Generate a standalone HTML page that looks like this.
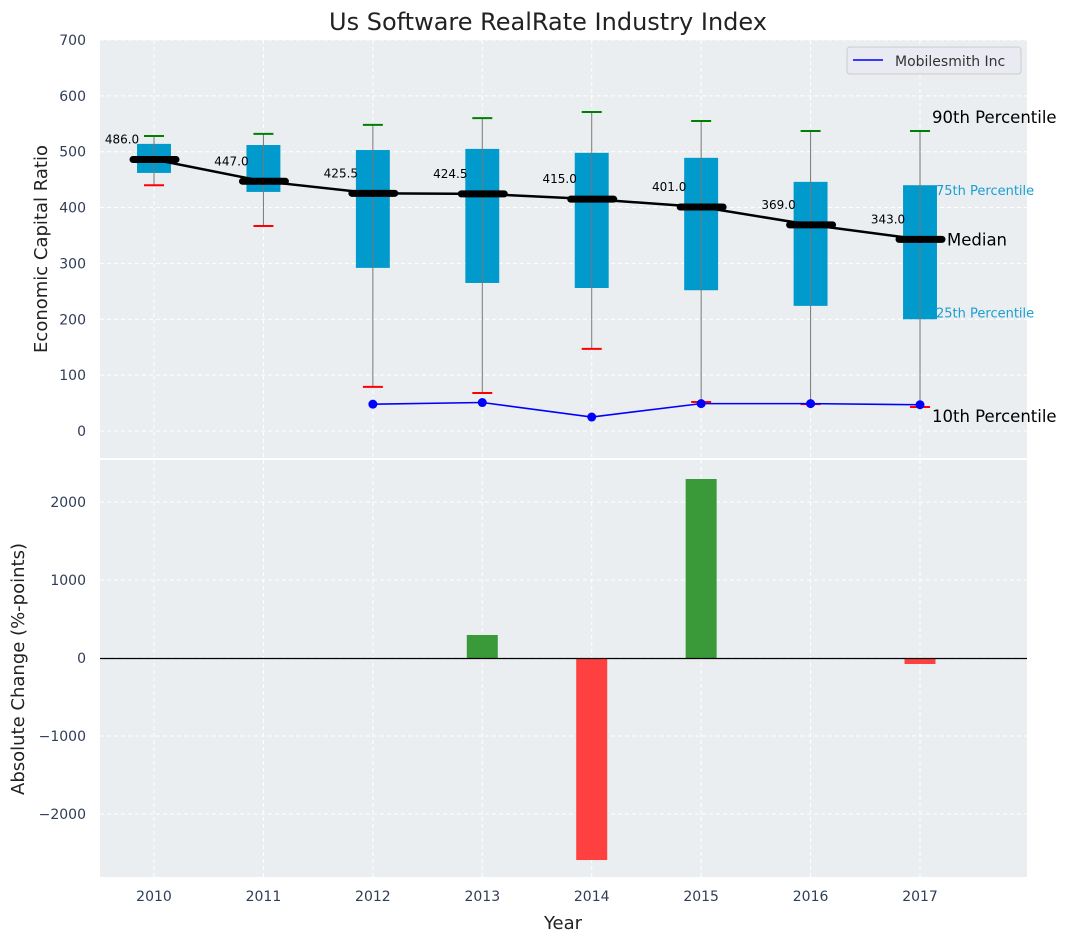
<!DOCTYPE html>
<html><head><meta charset="utf-8"><style>
body{margin:0;background:#fff;}
svg text{font-family:"DejaVu Sans","Liberation Sans",sans-serif;}
</style></head><body>
<svg id="c" width="1067" height="942" xmlns="http://www.w3.org/2000/svg"></svg>
<script>
const years=[2010,2011,2012,2013,2014,2015,2016,2017];
const q1=[462,428,292,265,256,252,224,200];
const q3=[514,512,503,505,498,489,446,440];
const med=[486.0,447.0,425.5,424.5,415.0,401.0,369.0,343.0];
const p90=[528,532,548,560,571,555,537,537];
const p10=[440,367,79,68,147,52,48,43];
const coYears=[2012,2013,2014,2015,2016,2017];
const coVals=[48,51,25,49,49,47];
const chgYears=[2013,2014,2015,2017];
const chgVals=[295,-2590,2295,-77];
const yTop=[0,100,200,300,400,500,600,700];
const yBot=[-2000,-1000,0,1000,2000];

const NS="http://www.w3.org/2000/svg";
const svg=document.getElementById('c');
function el(t,a,txt){const e=document.createElementNS(NS,t);for(const k in a)e.setAttribute(k,a[k]);if(txt!==undefined)e.textContent=txt;svg.appendChild(e);return e;}
const X=v=>154+(v-2010)*109.43;
const YT=v=>431-v*0.5586;
const YB=v=>658-v*0.078;
const L=100,R=1027;
let e=el('rect',{x:L,y:40,width:R-L,height:418,fill:'#eaeef0'});

e=el('rect',{x:L,y:460,width:R-L,height:417,fill:'#eaeef0'});

years.forEach(y=>{el('line',{x1:X(y),x2:X(y),y1:40,y2:458,stroke:'#fff','stroke-dasharray':'4,3'});el('line',{x1:X(y),x2:X(y),y1:460,y2:877,stroke:'#fff','stroke-dasharray':'4,3'});});
yTop.forEach(v=>{el('line',{x1:L,x2:R,y1:YT(v),y2:YT(v),stroke:'#fff','stroke-dasharray':'4,3'});
 e=el('text',{x:86,y:YT(v)+5,'text-anchor':'end','font-size':14,fill:'#2e3e55'},v);});
yBot.forEach(v=>{el('line',{x1:L,x2:R,y1:YB(v),y2:YB(v),stroke:'#fff','stroke-dasharray':'4,3'});
 e=el('text',{x:86,y:YB(v)+5,'text-anchor':'end','font-size':14,fill:'#2e3e55'},v<0?'\u2212'+(-v):v);});
years.forEach(y=>{e=el('text',{x:X(y),y:901,'text-anchor':'middle','font-size':14,fill:'#2e3e55'},y);});
const bw=0.31*109.43;
years.forEach((y,i)=>{
 const cx=X(y);
 e=el('rect',{x:cx-bw/2,y:YT(q3[i]),width:bw,height:YT(q1[i])-YT(q3[i]),fill:'#009acd'});
 
 e=el('line',{x1:cx,x2:cx,y1:YT(p10[i]),y2:YT(p90[i]),stroke:'#777','stroke-width':1});
 
 el('line',{x1:cx-10,x2:cx+10,y1:YT(p90[i]),y2:YT(p90[i]),stroke:'green','stroke-width':2});
 el('line',{x1:cx-10,x2:cx+10,y1:YT(p10[i]),y2:YT(p10[i]),stroke:'red','stroke-width':2});
});
e=el('polyline',{points:years.map((y,i)=>X(y)+','+YT(med[i])).join(' '),fill:'none',stroke:'#000','stroke-width':2.5});

years.forEach((y,i)=>{
 e=el('line',{x1:X(y)-21,x2:X(y)+22,y1:YT(med[i]),y2:YT(med[i]),stroke:'#000','stroke-width':7,'stroke-linecap':'round'});
 
 e=el('text',{x:X(y)-32,y:YT(med[i])-16,'text-anchor':'middle','font-size':12,fill:'#000'},med[i].toFixed(1));
 
});
e=el('polyline',{points:coYears.map((y,i)=>X(y)+','+YT(coVals[i])).join(' '),fill:'none',stroke:'blue','stroke-width':1.6});

coYears.forEach((y,i)=>{e=el('circle',{cx:X(y),cy:YT(coVals[i]),r:4.5,fill:'blue'});});
const last=years.length-1,lx=X(years[last]);
[['90th Percentile',lx+12,YT(p90[last])-8,16.5,'#000'],['75th Percentile',lx+16,YT(q3[last])+10,13,'#1a9fd0'],['Median',lx+27,YT(med[last])+6,16.5,'#000'],['25th Percentile',lx+16,YT(q1[last])-2,13,'#1a9fd0'],['10th Percentile',lx+12,YT(p10[last])+15,16.5,'#000']].forEach(a=>{
 e=el('text',{x:a[1],y:a[2],'font-size':a[3],fill:a[4]},a[0]);});
e=el('rect',{x:847,y:47,width:174,height:27,rx:3,fill:'#eaeaf2',stroke:'#ccc'});
el('line',{x1:853,x2:883,y1:60,y2:60,stroke:'blue','stroke-width':1.6});
e=el('text',{x:895,y:66,'font-size':14,fill:'#333'},'Mobilesmith Inc');
chgYears.forEach((y,i)=>{const v=chgVals[i];
 e=el('rect',{x:X(y)-15.5,y:Math.min(YB(v),YB(0)),width:31,height:Math.abs(YB(v)-YB(0)),fill:v>=0?'#3a9a3a':'#ff4040'});
 });
e=el('line',{x1:L,x2:R,y1:Math.round(YB(0))+0.5,y2:Math.round(YB(0))+0.5,stroke:'#000','stroke-width':1.2});

e=el('text',{x:548,y:30,'text-anchor':'middle','font-size':24,fill:'#222'},'Us Software RealRate Industry Index');
e=el('text',{x:0,y:0,'text-anchor':'middle','font-size':18,fill:'#222',transform:'translate(47,249) rotate(-90)'},'Economic Capital Ratio');
e=el('text',{x:0,y:0,'text-anchor':'middle','font-size':18,fill:'#222',transform:'translate(24,669) rotate(-90)'},'Absolute Change (%-points)');
e=el('text',{x:563,y:929,'text-anchor':'middle','font-size':18,fill:'#222'},'Year');
</script>
</body></html>
